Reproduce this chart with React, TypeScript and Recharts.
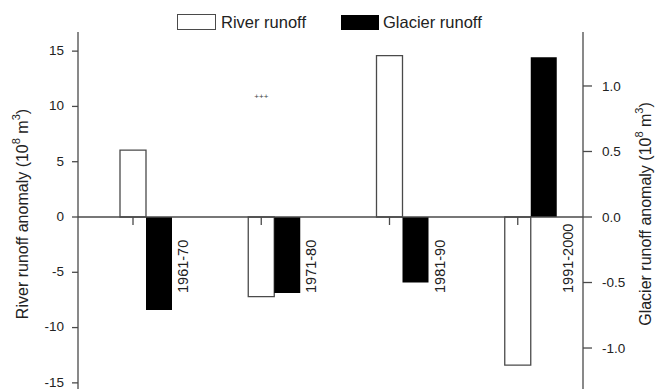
import { ComposedChart, Bar, XAxis, YAxis, ReferenceLine, ReferenceDot, LabelList, Legend } from 'recharts'

const periods = ['1961-70', '1971-80', '1981-90', '1991-2000']
const riverRunoff = [6.05, -7.2, 14.6, -13.4]
const glacierRunoff = [-0.71, -0.58, -0.5, 1.22]
const leftTicks = [-15, -10, -5, 0, 5, 10, 15]
const rightTicks = [-1, -0.5, 0, 0.5, 1]
const seriesNames = ['River runoff', 'Glacier runoff']

const rows = periods.map((period, i) => ({
  period,
  river: riverRunoff[i],
  glacier: glacierRunoff[i],
}))

const FONT = '"Liberation Sans", Arial, Helvetica, sans-serif'
const INK = '#222'
const LINE = '#4a4a4a'

// zero line position of a bar, whatever way round its rect is given
function zeroOf(vb: any, value: number) {
  const { y, height } = vb
  return value >= 0 ? Math.max(y, y + height) : Math.min(y, y + height)
}

function RiverTick(props: any) {
  const vb = props.viewBox ?? props
  const zero = zeroOf(vb, Number(props.value))
  const cx = vb.x + vb.width / 2
  return <line x1={cx} x2={cx} y1={zero} y2={zero + 8} stroke={LINE} strokeWidth={1.3} />
}

function PeriodLabel(props: any) {
  const vb = props.viewBox ?? props
  const idx = periods.indexOf(String(props.value))
  const zero = zeroOf(vb, glacierRunoff[idx])
  const tx = vb.x + vb.width + 16
  const ty = zero + 76
  return (
    <text
      x={tx}
      y={ty}
      transform={`rotate(-90 ${tx} ${ty})`}
      textAnchor="start"
      fontSize={14.5}
      fontFamily={FONT}
      fill={INK}
    >
      {props.value}
    </text>
  )
}

function AxisTitle({ viewBox, text, dx }: any) {
  const x = viewBox.x + dx
  const y = viewBox.y + viewBox.height / 2 - 3
  return (
    <text
      x={x}
      y={y}
      transform={`rotate(-90 ${x} ${y})`}
      textAnchor="middle"
      dominantBaseline="central"
      fontSize={16}
      fontFamily={FONT}
      fill={INK}
    >
      {text} (10
      <tspan fontSize={11} dy={-6}>8</tspan>
      <tspan dy={6}> m</tspan>
      <tspan fontSize={11} dy={-6}>3</tspan>
      <tspan dy={6}>)</tspan>
    </text>
  )
}

function LegendBox() {
  const swatch = { display: 'inline-block', boxSizing: 'border-box' as const, height: 16 }
  return (
    <div style={{ display: 'flex', alignItems: 'center', fontFamily: FONT, fontSize: 16.5, color: INK, lineHeight: '18px' }}>
      <span style={{ ...swatch, width: 39, border: `1.5px solid ${LINE}`, background: '#fff', marginRight: 5 }} />
      <span>{seriesNames[0]}</span>
      <span style={{ width: 35 }} />
      <span style={{ ...swatch, width: 38, height: 15, background: '#000', marginRight: 4 }} />
      <span>{seriesNames[1]}</span>
    </div>
  )
}

export default function App() {
  return (
    <div style={{ position: 'absolute', left: 0, top: 0, width: 669, height: 389, overflow: 'hidden', background: '#fff' }}>
      <ComposedChart
        width={669}
        height={410}
        data={rows}
        margin={{ top: 32, right: 0, bottom: 8, left: 18 }}
        barGap={0}
      >
        <XAxis dataKey="period" hide padding={{ left: 4, right: -12 }} />
        <YAxis
          yAxisId="left"
          width={60}
          domain={[-16.73, 16.73]}
          ticks={leftTicks}
          allowDataOverflow
          tick={{ fill: INK, fontSize: 13.5, fontFamily: FONT, dy: -1 }}
          tickSize={6}
          tickMargin={8}
          tickLine={{ stroke: LINE, strokeWidth: 1.3 }}
          axisLine={{ stroke: LINE, strokeWidth: 1.3 }}
          label={{ content: (p: any) => <AxisTitle {...p} text="River runoff anomaly" dx={4} /> }}
        />
        <YAxis
          yAxisId="right"
          orientation="right"
          width={86}
          domain={[-1.412, 1.412]}
          ticks={rightTicks}
          allowDataOverflow
          tickFormatter={(v: number) => v.toFixed(1)}
          tick={{ fill: INK, fontSize: 13.5, fontFamily: FONT }}
          tickSize={9}
          tickMargin={10}
          tickLine={{ stroke: LINE, strokeWidth: 1.3 }}
          axisLine={{ stroke: LINE, strokeWidth: 1.3 }}
          label={{ content: (p: any) => <AxisTitle {...p} text="Glacier runoff anomaly" dx={62} /> }}
        />
        <Legend
          verticalAlign="middle"
          align="center"
          wrapperStyle={{ top: 13, left: 177, width: 340 }}
          content={() => <LegendBox />}
        />
        <ReferenceLine yAxisId="left" y={0} stroke={LINE} strokeWidth={1.3} />
        <Bar
          dataKey="river"
          name={seriesNames[0]}
          yAxisId="left"
          barSize={26}
          fill="#fff"
          stroke={LINE}
          strokeWidth={1.3}
          isAnimationActive={false}
        >
          <LabelList dataKey="river" content={RiverTick} />
        </Bar>
        <Bar
          dataKey="glacier"
          name={seriesNames[1]}
          yAxisId="right"
          barSize={26}
          fill="#000"
          isAnimationActive={false}
        >
          <LabelList dataKey="period" content={PeriodLabel} />
        </Bar>
        <ReferenceDot
          yAxisId="left"
          x={periods[1]}
          y={10.7}
          r={0}
          fill="none"
          stroke="none"
          label={{
            content: ({ viewBox }: any) => (
              <text x={viewBox.x - 13} y={viewBox.y} textAnchor="middle" fontSize={8} fontFamily={FONT} fill="#444">
                +++
              </text>
            ),
          }}
        />
      </ComposedChart>
    </div>
  )
}
